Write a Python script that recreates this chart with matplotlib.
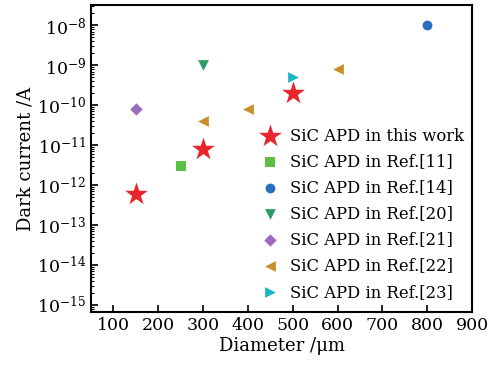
import matplotlib
matplotlib.use("Agg")
import matplotlib.pyplot as plt
from matplotlib.ticker import LogLocator, NullFormatter

plt.rcParams['font.family'] = ['DejaVu Serif']
plt.rcParams['mathtext.fontset'] = 'dejavuserif'

labels = ["SiC APD in this work", "SiC APD in Ref.[11]", "SiC APD in Ref.[14]",
          "SiC APD in Ref.[20]", "SiC APD in Ref.[21]", "SiC APD in Ref.[22]",
          "SiC APD in Ref.[23]"]
diam_this = [150, 300, 500]
dark_this = [6e-13, 8e-12, 2e-10]
diam_11 = [250]
dark_11 = [3e-12]
diam_14 = [800]
dark_14 = [1e-8]
diam_20 = [300]
dark_20 = [1e-9]
diam_21 = [150]
dark_21 = [8e-11]
diam_22 = [300, 400, 600]
dark_22 = [4e-11, 8e-11, 8e-10]
diam_23 = [500]
dark_23 = [5e-10]
xticks = [100, 200, 300, 400, 500, 600, 700, 800, 900]

fig = plt.figure(figsize=(4.97, 3.65), dpi=100)
ax = fig.add_axes([0.183, 0.145, 0.767, 0.84])

series = [
    (diam_this, dark_this, '*', '#e8262b', 300),
    (diam_11, dark_11, 's', '#5cbf45', 45),
    (diam_14, dark_14, 'o', '#2a6ec0', 50),
    (diam_20, dark_20, 'v', '#2a9e66', 60),
    (diam_21, dark_21, 'D', '#9b6cc2', 40),
    (diam_22, dark_22, '<', '#c98f2b', 60),
    (diam_23, dark_23, '>', '#1db6c3', 60),
]
for (x, y, m, c, s), lab in zip(series, labels):
    ax.scatter(x, y, marker=m, color=c, s=s, label=lab, linewidths=0, zorder=3)

ax.set_yscale('log')
ax.set_xlim(50, 900)
ax.set_ylim(10**-15.18, 10**-7.5)
ax.set_xticks(xticks)
ax.set_yticks([10.0**e for e in range(-15, -7)])
ax.yaxis.set_minor_locator(LogLocator(base=10, subs=[i for i in range(2, 10)], numticks=20))
ax.yaxis.set_minor_formatter(NullFormatter())
ax.tick_params(axis='both', which='major', direction='in', length=5, width=1.2, labelsize=12.5)
ax.tick_params(axis='y', which='minor', direction='in', length=2.5, width=0.8)
for sp in ax.spines.values():
    sp.set_linewidth(1.5)

ax.set_xlabel("Diameter /μm", fontsize=13, labelpad=2)
ax.set_ylabel("Dark current /A", fontsize=13, labelpad=2)

ax.legend(loc='lower right', frameon=False, fontsize=11.8, handletextpad=0.5,
          labelspacing=0.55, borderaxespad=0.3, handlelength=1.5, scatterpoints=1,
          bbox_to_anchor=(1.01, 0.0))

fig.savefig("out.png", dpi=100)
